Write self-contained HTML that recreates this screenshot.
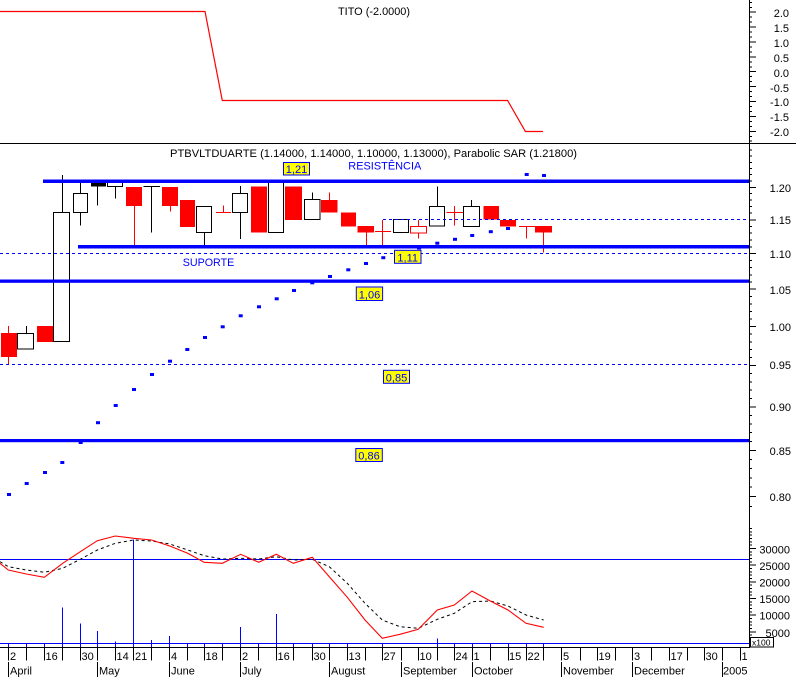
<!DOCTYPE html>
<html><head><meta charset="utf-8"><style>
html,body{margin:0;padding:0;background:#fff;}
svg{display:block;}
text{font-family:"Liberation Sans",Arial,sans-serif;}
</style></head><body>
<svg width="796" height="677" viewBox="0 0 796 677" xmlns="http://www.w3.org/2000/svg">
<rect width="796" height="677" fill="#fff"/>

<!-- ===== TOP PANEL (TITO) ===== -->
<text x="338" y="15" font-size="11" fill="#000" textLength="72" lengthAdjust="spacingAndGlyphs">TITO (-2.0000)</text>
<polyline points="0,11.5 205,11.5 222.3,100.5 507.6,100.5 525.4,131.5 543,131.5" fill="none" stroke="#f00" stroke-width="1.2"/>
<g font-size="11" fill="#000" text-anchor="end">
<text x="789" y="17">2.0</text>
<text x="789" y="32">1.5</text>
<text x="789" y="47">1.0</text>
<text x="789" y="62">0.5</text>
<text x="789" y="77">0.0</text>
<text x="789" y="92">-0.5</text>
<text x="789" y="106">-1.0</text>
<text x="789" y="121">-1.5</text>
<text x="789" y="136">-2.0</text>
</g>
<path d="M749 2.5h3M749 7.5h3M749 12h7M749 17h3M749 22h3M749 27h7M749 32h3M749 37h3M749 42h7M749 47h3M749 52h3M749 57h7M749 62h3M749 67h3M749 71.5h7M749 76.5h3M749 81.5h3M749 86.5h7M749 91.5h3M749 96.5h3M749 101.5h7M749 106.5h3M749 111.5h3M749 116.5h7M749 121.5h3M749 126.5h3M749 131.5h7M749 136.5h3M749 141h3" stroke="#000" stroke-width="1" fill="none" shape-rendering="crispEdges"/>

<!-- separators / axis -->
<line x1="0" y1="143.5" x2="796" y2="143.5" stroke="#000" stroke-width="1.3" shape-rendering="crispEdges"/>
<line x1="749.5" y1="0" x2="749.5" y2="648" stroke="#000" stroke-width="1" shape-rendering="crispEdges"/>

<!-- ===== MAIN PANEL ===== -->
<text x="170" y="157" font-size="11" fill="#000" textLength="407" lengthAdjust="spacingAndGlyphs">PTBVLTDUARTE (1.14000, 1.14000, 1.10000, 1.13000), Parabolic SAR (1.21800)</text>

<!-- main axis ticks -->
<path d="M749 150.1h3M749 156.2h3M749 162.3h3M749 168.5h3M749 174.7h3M749 181h3M749 187.3h7M749 193.7h3M749 200.1h3M749 206.6h3M749 213.2h3M749 219.8h7M749 226.4h3M749 233.2h3M749 239.9h3M749 246.8h3M749 253.7h7M749 260.7h3M749 267.7h3M749 274.8h3M749 282h3M749 289.2h7M749 296.5h3M749 303.9h3M749 311.3h3M749 318.8h3M749 326.4h7M749 334.1h3M749 341.8h3M749 349.6h3M749 357.6h3M749 365.5h7M749 373.6h3M749 381.8h3M749 390h3M749 398.4h3M749 406.8h7M749 415.3h3M749 423.9h3M749 432.7h3M749 441.5h3M749 450.4h7M749 459.4h3M749 468.6h3M749 477.8h3M749 487.2h3M749 496.7h7M749 506.3h3" stroke="#000" stroke-width="1" fill="none" shape-rendering="crispEdges"/>
<g font-size="11" fill="#000" text-anchor="end">
<text x="791" y="192">1.20</text>
<text x="791" y="224">1.15</text>
<text x="791" y="258">1.10</text>
<text x="791" y="294">1.05</text>
<text x="791" y="331">1.00</text>
<text x="791" y="369">0.95</text>
<text x="791" y="411">0.90</text>
<text x="791" y="455">0.85</text>
<text x="791" y="501">0.80</text>
</g>

<!-- candles -->
<g stroke-width="1.2" shape-rendering="crispEdges">
<!-- 1 -->
<line x1="8.5" y1="326" x2="8.5" y2="364" stroke="#f00"/>
<rect x="1" y="333" width="16" height="24" fill="#f00"/>
<!-- 2 -->
<line x1="26.5" y1="326" x2="26.5" y2="333" stroke="#000"/>
<rect x="17.5" y="333.5" width="16" height="15.5" fill="#fff" stroke="#000"/>
<!-- 3 -->
<rect x="37" y="326" width="16" height="16" fill="#f00"/>
<!-- 4 -->
<line x1="62.5" y1="175" x2="62.5" y2="212" stroke="#000"/>
<rect x="53.5" y="212.5" width="16" height="129" fill="#fff" stroke="#000"/>
<!-- 5 -->
<line x1="80.5" y1="182.7" x2="80.5" y2="225.7" stroke="#000"/>
<rect x="73.5" y="193.5" width="14" height="19" fill="#fff" stroke="#000"/>
<!-- 6 -->
<line x1="97.5" y1="186" x2="97.5" y2="205.7" stroke="#000"/>
<rect x="91" y="182.7" width="15" height="4" fill="#000"/>
<!-- 7 -->
<line x1="115.5" y1="186.5" x2="115.5" y2="198.7" stroke="#000"/>
<rect x="107.5" y="182.5" width="15" height="4" fill="#fff" stroke="#000"/>
<!-- 8 -->
<line x1="134.5" y1="205" x2="134.5" y2="245.7" stroke="#f00"/>
<rect x="126" y="187" width="16" height="19" fill="#f00"/>
<!-- 9 -->
<line x1="143.3" y1="186.5" x2="160" y2="186.5" stroke="#000"/>
<line x1="151.5" y1="186" x2="151.5" y2="232.7" stroke="#000"/>
<!-- 10 -->
<line x1="170.5" y1="205" x2="170.5" y2="211.7" stroke="#f00"/>
<rect x="162" y="187" width="16" height="19" fill="#f00"/>
<!-- 11 -->
<rect x="180" y="200" width="15" height="27" fill="#f00"/>
<!-- 12 -->
<line x1="204.5" y1="232.5" x2="204.5" y2="245" stroke="#000"/>
<rect x="196.5" y="206.5" width="15" height="26" fill="#fff" stroke="#000"/>
<!-- 13 -->
<line x1="216" y1="212.5" x2="231" y2="212.5" stroke="#f00"/>
<line x1="223.5" y1="205.7" x2="223.5" y2="212.5" stroke="#f00"/>
<!-- 14 -->
<line x1="240.5" y1="186" x2="240.5" y2="239" stroke="#000"/>
<rect x="232.5" y="193.5" width="15" height="19" fill="#fff" stroke="#000"/>
<!-- 15 -->
<rect x="251" y="186.7" width="16" height="46" fill="#f00"/>
<!-- 16 -->
<rect x="268.5" y="181" width="15" height="51.5" fill="#fff" stroke="#000"/>
<!-- 17 -->
<rect x="285" y="186.7" width="17" height="33.3" fill="#f00"/>
<!-- 18 -->
<line x1="312.5" y1="192.7" x2="312.5" y2="199.3" stroke="#000"/>
<rect x="304.5" y="199.5" width="15.5" height="20" fill="#fff" stroke="#000"/>
<!-- 19 -->
<line x1="329.5" y1="192.7" x2="329.5" y2="200" stroke="#f00"/>
<rect x="321" y="200" width="16.7" height="12.7" fill="#f00"/>
<!-- 20 -->
<rect x="341" y="212.7" width="15" height="14" fill="#f00"/>
<!-- 21 -->
<line x1="366.5" y1="232" x2="366.5" y2="245" stroke="#f00"/>
<rect x="357.7" y="226" width="16.3" height="6.7" fill="#f00"/>
<!-- 22 -->
<line x1="375" y1="231.5" x2="391" y2="231.5" stroke="#f00"/>
<line x1="382.5" y1="220" x2="382.5" y2="245" stroke="#f00"/>
<!-- 23 -->
<rect x="393.5" y="219.5" width="15" height="13" fill="#fff" stroke="#000"/>
<!-- 24 -->
<line x1="418.5" y1="220" x2="418.5" y2="238.7" stroke="#f00"/>
<rect x="410.5" y="226.5" width="16" height="6.5" fill="#fff" stroke="#f00"/>
<!-- 25 -->
<line x1="437.5" y1="186.7" x2="437.5" y2="206" stroke="#000"/>
<rect x="429.5" y="206.5" width="15" height="19.5" fill="#fff" stroke="#000"/>
<!-- 26 -->
<line x1="446.7" y1="212.5" x2="463.3" y2="212.5" stroke="#f00"/>
<line x1="454.5" y1="206" x2="454.5" y2="225.7" stroke="#f00"/>
<!-- 27 -->
<line x1="471.5" y1="200" x2="471.5" y2="206" stroke="#000"/>
<rect x="463.5" y="206.5" width="16" height="20" fill="#fff" stroke="#000"/>
<!-- 28 -->
<rect x="483.3" y="206" width="15.7" height="13.3" fill="#f00"/>
<!-- 29 -->
<rect x="500" y="220" width="16" height="6.7" fill="#f00"/>
<!-- 30 -->
<line x1="519" y1="226.5" x2="535" y2="226.5" stroke="#f00"/>
<line x1="526.5" y1="226" x2="526.5" y2="238.7" stroke="#f00"/>
<!-- 31 -->
<line x1="543.5" y1="232" x2="543.5" y2="252.7" stroke="#f00"/>
<rect x="535" y="226" width="17" height="6.7" fill="#f00"/>
</g>

<!-- dashed reference lines -->
<g stroke="#00f" stroke-width="1" stroke-dasharray="3 3" shape-rendering="crispEdges">
<line x1="383" y1="219.5" x2="749" y2="219.5"/>
<line x1="0" y1="253.5" x2="749" y2="253.5"/>
<line x1="0" y1="364.5" x2="749" y2="364.5"/>
</g>
<!-- thick blue lines -->
<g fill="#00f">
<rect x="43" y="179.5" width="706" height="3.5"/>
<rect x="78" y="245" width="671" height="3.5"/>
<rect x="0" y="279.5" width="749" height="3.3"/>
<rect x="0" y="439" width="749" height="3.2"/>
</g>

<!-- Parabolic SAR dots -->
<g fill="#00f">
<rect x="7" y="493" width="4" height="3"/>
<rect x="24.7" y="482" width="4" height="3"/>
<rect x="43" y="471" width="4" height="3"/>
<rect x="60.3" y="461" width="4" height="3"/>
<rect x="78.7" y="441" width="4" height="3"/>
<rect x="96" y="421.2" width="4" height="3"/>
<rect x="113.7" y="404" width="4" height="3"/>
<rect x="132" y="388" width="4" height="3"/>
<rect x="150" y="373" width="4" height="3"/>
<rect x="168" y="359.7" width="4" height="3"/>
<rect x="185.3" y="348" width="4" height="3"/>
<rect x="203" y="336" width="4" height="3"/>
<rect x="220.7" y="325.3" width="4" height="3"/>
<rect x="238.7" y="314.3" width="4" height="3"/>
<rect x="257" y="305.3" width="4" height="3"/>
<rect x="274.7" y="297.3" width="4" height="3"/>
<rect x="292" y="289" width="4" height="3"/>
<rect x="310.3" y="281.3" width="4" height="3"/>
<rect x="328" y="275" width="4" height="3"/>
<rect x="346.3" y="268.3" width="4" height="3"/>
<rect x="364" y="262" width="4" height="3"/>
<rect x="381.3" y="256.2" width="4" height="3"/>
<rect x="399" y="250.5" width="4" height="3"/>
<rect x="417" y="246.5" width="4" height="3"/>
<rect x="435.3" y="241.7" width="4" height="3"/>
<rect x="453" y="237.8" width="4" height="3"/>
<rect x="470.2" y="234" width="4" height="3"/>
<rect x="488.8" y="230.2" width="4" height="3"/>
<rect x="506" y="227" width="4" height="3"/>
<rect x="524.7" y="173" width="4" height="3"/>
<rect x="542" y="174" width="4" height="3"/>
</g>

<!-- annotation texts -->
<text x="348.3" y="169.5" font-size="11" fill="#00f" textLength="73" lengthAdjust="spacingAndGlyphs">RESISTÊNCIA</text>
<text x="182.7" y="266" font-size="11" fill="#00f" textLength="51.6" lengthAdjust="spacingAndGlyphs">SUPORTE</text>

<!-- yellow value boxes -->
<g font-size="11" fill="#00f" text-anchor="middle">
<rect x="283.5" y="162.5" width="26" height="12.5" fill="#ff0" stroke="#00f" stroke-width="1"/>
<text x="296.5" y="173">1,21</text>
<rect x="394.5" y="250.3" width="26.5" height="13" fill="#ff0" stroke="#00f" stroke-width="1"/>
<text x="407.7" y="261.3">1,11</text>
<rect x="356.3" y="287" width="26.3" height="13.5" fill="#ff0" stroke="#00f" stroke-width="1"/>
<text x="369.5" y="298.3">1,06</text>
<rect x="383.5" y="370.3" width="26" height="13" fill="#ff0" stroke="#00f" stroke-width="1"/>
<text x="396.5" y="381.3">0,85</text>
<rect x="355.8" y="448.5" width="26.5" height="13" fill="#ff0" stroke="#00f" stroke-width="1"/>
<text x="369" y="459.5">0,86</text>
</g>

<!-- ===== VOLUME / OSCILLATOR PANEL ===== -->
<line x1="0" y1="559.5" x2="749" y2="559.5" stroke="#00f" stroke-width="1" shape-rendering="crispEdges"/>
<g stroke="#00f" stroke-width="1.1" shape-rendering="crispEdges">
<line x1="8.5" y1="647.5" x2="8.5" y2="643"/>
<line x1="26.5" y1="647.5" x2="26.5" y2="643"/>
<line x1="44.5" y1="647.5" x2="44.5" y2="643"/>
<line x1="62.5" y1="647.5" x2="62.5" y2="607.3"/>
<line x1="80.5" y1="647.5" x2="80.5" y2="623.3"/>
<line x1="97.5" y1="647.5" x2="97.5" y2="631"/>
<line x1="115.5" y1="647.5" x2="115.5" y2="641.5"/>
<line x1="133.5" y1="647.5" x2="133.5" y2="539.3"/>
<line x1="151.5" y1="647.5" x2="151.5" y2="640"/>
<line x1="169.5" y1="647.5" x2="169.5" y2="636"/>
<line x1="187.5" y1="647.5" x2="187.5" y2="643"/>
<line x1="204.5" y1="647.5" x2="204.5" y2="643"/>
<line x1="222.5" y1="647.5" x2="222.5" y2="643"/>
<line x1="240.5" y1="647.5" x2="240.5" y2="627"/>
<line x1="258.5" y1="647.5" x2="258.5" y2="643"/>
<line x1="276.5" y1="647.5" x2="276.5" y2="614"/>
<line x1="293.5" y1="647.5" x2="293.5" y2="643"/>
<line x1="312.5" y1="647.5" x2="312.5" y2="643"/>
<line x1="329.5" y1="647.5" x2="329.5" y2="643"/>
<line x1="347.5" y1="647.5" x2="347.5" y2="643"/>
<line x1="382.5" y1="647.5" x2="382.5" y2="643"/>
<line x1="437.5" y1="647.5" x2="437.5" y2="638.3"/>
<line x1="454.5" y1="647.5" x2="454.5" y2="643"/>
<line x1="472.5" y1="647.5" x2="472.5" y2="643"/>
<line x1="490.5" y1="647.5" x2="490.5" y2="643"/>
<line x1="508.5" y1="647.5" x2="508.5" y2="643"/>
<line x1="526.5" y1="647.5" x2="526.5" y2="643"/>
<line x1="543.5" y1="647.5" x2="543.5" y2="643"/>
</g>
<line x1="0" y1="643.5" x2="749" y2="643.5" stroke="#00f" stroke-width="1" shape-rendering="crispEdges"/>

<polyline points="0,561.7 8.3,566.7 26.3,570 44.3,572.3 62.7,568.3 80.3,559.3 97.3,550 115.3,543.3 133.7,540 151.7,541 169.7,544 187.7,550 204.3,555.7 222.3,559 240.7,558.3 258.7,559 276.3,556.7 293.3,560 312.3,559.3 329.3,566.7 347.3,583.3 365,603.3 382.3,620 400,626.7 418.3,628.3 437.3,619.3 454.3,613.3 472,601.7 490.3,601 508,606 526,615 543.7,620" fill="none" stroke="#000" stroke-width="1" stroke-dasharray="3 3"/>
<polyline points="0,563.3 8.3,570 26.3,574 44.3,577.3 62.7,563.3 80.3,551.7 97.3,540.7 115.3,536 133.7,538.3 151.7,540 169.7,546 187.7,553.3 204.3,562.3 222.3,563.3 240.7,554.3 258.7,562.3 276.3,554.3 293.3,563.3 312.3,557.3 329.3,576.7 347.3,597.3 365,620 382.3,638.3 400,634.3 418.3,629.3 437.3,610 454.3,605 472,591 490.3,601 508,610 526,623.3 543.7,627.3" fill="none" stroke="#f00" stroke-width="1.1"/>

<!-- volume axis ticks -->
<path d="M749 528.5h3M749 531.8h3M749 535.2h3M749 538.5h3M749 541.8h3M749 545.2h3M749 548.5h7M749 551.8h3M749 555.2h3M749 558.5h3M749 561.8h3M749 565.2h7M749 568.5h3M749 571.8h3M749 575.2h3M749 578.5h3M749 581.9h7M749 585.2h3M749 588.5h3M749 591.9h3M749 595.2h3M749 598.5h7M749 601.9h3M749 605.2h3M749 608.5h3M749 611.9h3M749 615.2h7M749 618.6h3M749 621.9h3M749 625.2h3M749 628.6h3M749 631.9h7M749 635.2h3" stroke="#000" stroke-width="1" fill="none" shape-rendering="crispEdges"/>
<g font-size="11" fill="#000" text-anchor="end">
<text x="790" y="553.5">30000</text>
<text x="790" y="570">25000</text>
<text x="790" y="586.5">20000</text>
<text x="790" y="603">15000</text>
<text x="790" y="619.5">10000</text>
<text x="790" y="637">5000</text>
</g>
<rect x="750.5" y="637.5" width="23" height="9.5" fill="#fff" stroke="#000" stroke-width="1" shape-rendering="crispEdges"/>
<text x="752" y="645.5" font-size="8.5" fill="#000">x100</text>

<!-- ===== X AXIS ===== -->
<line x1="0" y1="647.5" x2="749" y2="647.5" stroke="#000" stroke-width="1.2" shape-rendering="crispEdges"/>
<path d="M8.5 648v12.5M26.5 648v12.5M44.5 648v12.5M62.5 648v12.5M80.5 648v12.5M97.5 648v12.5M115.5 648v12.5M133.5 648v12.5M151.5 648v12.5M169.5 648v12.5M187.5 648v12.5M204.5 648v12.5M222.5 648v12.5M240.5 648v12.5M258.5 648v12.5M276.5 648v12.5M293.5 648v12.5M312.5 648v12.5M329.5 648v12.5M347.5 648v12.5M365.5 648v12.5M382.5 648v12.5M401.5 648v12.5M418.5 648v12.5M437.5 648v12.5M454.5 648v12.5M472.5 648v12.5M490.5 648v12.5M508.5 648v12.5M526.5 648v12.5M543.5 648v12.5M561.5 648v12.5M580.5 648v12.5M597.5 648v12.5M615.5 648v12.5M632.5 648v12.5M651.5 648v12.5M669.5 648v12.5M687.5 648v12.5M704.5 648v12.5M722.5 648v12.5M740.5 648v12.5" stroke="#000" stroke-width="1" fill="none" shape-rendering="crispEdges"/>
<path d="M8.5 662v15M97.5 662v15M169.5 662v15M240.5 662v15M329.5 662v15M401.5 662v15M472.5 662v15M561.5 662v15M632.5 662v15M722.5 662v15" stroke="#000" stroke-width="1" fill="none" shape-rendering="crispEdges"/>
<g font-size="11" fill="#000">
<text x="10" y="660">2</text>
<text x="45.5" y="660">16</text>
<text x="81.5" y="660">30</text>
<text x="116.5" y="660">14</text>
<text x="135" y="660">21</text>
<text x="171" y="660">4</text>
<text x="205.5" y="660">18</text>
<text x="242" y="660">2</text>
<text x="277.5" y="660">16</text>
<text x="313.5" y="660">30</text>
<text x="348.5" y="660">13</text>
<text x="383.5" y="660">27</text>
<text x="419.5" y="660">10</text>
<text x="455.5" y="660">24</text>
<text x="473.5" y="660">1</text>
<text x="509" y="660">15</text>
<text x="527.5" y="660">22</text>
<text x="563" y="660">5</text>
<text x="598.5" y="660">19</text>
<text x="634" y="660">3</text>
<text x="670.5" y="660">17</text>
<text x="705.5" y="660">30</text>
<text x="741.5" y="660">1</text>
</g>
<rect x="749" y="648" width="1" height="14" fill="#fff"/>
<g font-size="11" fill="#000">
<text x="10" y="674.5">April</text>
<text x="99" y="674.5">May</text>
<text x="171" y="674.5">June</text>
<text x="242" y="674.5">July</text>
<text x="331" y="674.5">August</text>
<text x="403" y="674.5">September</text>
<text x="474" y="674.5">October</text>
<text x="563" y="674.5">November</text>
<text x="634" y="674.5">December</text>
<text x="723" y="674.5">2005</text>
</g>
</svg>
</body></html>
